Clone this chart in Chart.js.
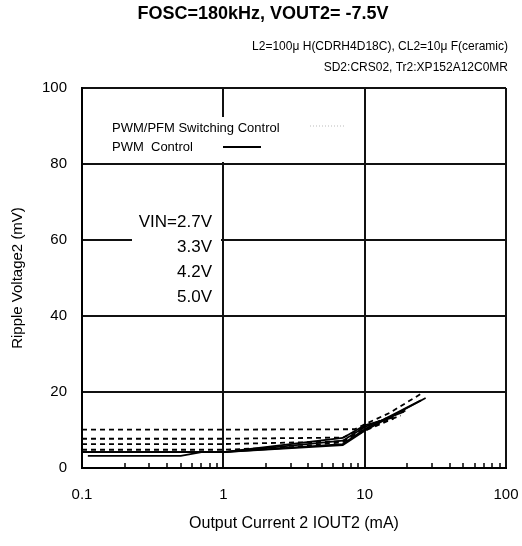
<!DOCTYPE html>
<html>
<head>
<meta charset="utf-8">
<script src="https://cdn.jsdelivr.net/npm/chart.js@4.4.1/dist/chart.umd.min.js"></script>
<style>
  html, body { margin: 0; padding: 0; background: #fff; }
  #wrap { width: 522px; height: 546px; }
</style>
</head>
<body>
<div id="wrap"><canvas id="rippleChart" width="522" height="546"></canvas></div>
<script>
// Ripple voltage vs output current, FOSC=180kHz, VOUT2=-7.5V
const xTicks = [0.1, 1, 10, 100];
const yTicks = [0, 20, 40, 60, 80, 100];
const vinLabels = ['VIN=2.7V', '3.3V', '4.2V', '5.0V'];

// PWM control (solid lines)
const pwmCurrent27 = [0.1, 1, 7, 10, 16];
const pwmRipple27  = [4.2, 4.2, 7.9, 11.2, 13.3];
const pwmCurrent33 = [0.1, 1, 7, 10, 19];
const pwmRipple33  = [4.2, 4.2, 7.2, 10.8, 14.8];
const pwmCurrent42 = [0.11, 0.5, 0.7, 1, 7, 10, 25];
const pwmRipple42  = [3.2, 3.2, 4.2, 4.2, 6.3, 10.2, 17.8];
const pwmCurrent50 = [0.1, 1, 7, 10, 27];
const pwmRipple50  = [4.2, 4.2, 6.0, 9.8, 18.4];

// PWM/PFM switching control (dashed lines)
const pfmCurrent27 = [0.1, 1, 8.5, 10, 15, 25];
const pfmRipple27  = [10.1, 10.1, 10.2, 11.5, 14.5, 19.5];
const pfmCurrent33 = [0.1, 1, 7, 10, 20];
const pfmRipple33  = [7.7, 7.7, 8.0, 10.8, 15.3];
const pfmCurrent42 = [0.1, 1, 7, 10, 18];
const pfmRipple42  = [6.3, 6.3, 7.0, 10.3, 13.8];
const pfmCurrent50 = [0.1, 1, 3, 7, 10, 16];
const pfmRipple50  = [4.8, 4.8, 5.5, 6.8, 9.8, 13.0];

const toPoints = (xs, ys) => xs.map((x, i) => ({ x: x, y: ys[i] }));
const isDecade = v => Math.abs(Math.log10(v) - Math.round(Math.log10(v))) < 1e-6;

function solid(label, xs, ys) {
    return { label: label, data: toPoints(xs, ys), borderColor: '#000', borderWidth: 1.8,
             pointRadius: 0, tension: 0, fill: false };
}
function dashed(label, xs, ys) {
    return { label: label, data: toPoints(xs, ys), borderColor: '#000', borderWidth: 1.8,
             borderDash: [5, 4], pointRadius: 0, tension: 0, fill: false };
}

// extra text and boxes drawn over the plot
const overlay = {
    id: 'overlay',
    afterDraw(chart) {
        const c = chart.ctx;
        const xs = chart.scales.x;
        const area = chart.chartArea;
        c.save();

        // minor ticks along the bottom axis
        c.strokeStyle = '#000';
        c.lineWidth = 1.5;
        [0.1, 1, 10].forEach(d => {
            for (let m = 2; m <= 9; m++) {
                const px = Math.round(xs.getPixelForValue(d * m));
                c.beginPath();
                c.moveTo(px, area.bottom);
                c.lineTo(px, area.bottom - 5);
                c.stroke();
            }
        });

        // titles
        c.fillStyle = '#000';
        c.textAlign = 'center';
        c.textBaseline = 'middle';
        c.font = 'bold 18px "Liberation Sans", Arial, sans-serif';
        c.fillText('FOSC=180kHz, VOUT2= -7.5V', 263, 14);
        c.textAlign = 'right';
        c.font = '12px "Liberation Sans", Arial, sans-serif';
        c.fillText('L2=100\u03bc H(CDRH4D18C), CL2=10\u03bc F(ceramic)', 508, 47);
        c.fillText('SD2:CRS02, Tr2:XP152A12C0MR', 508, 68);

        // legend box
        c.fillStyle = '#fff';
        c.fillRect(100, 117, 250, 45);
        c.fillStyle = '#000';
        c.textAlign = 'left';
        c.font = '13px "Liberation Sans", Arial, sans-serif';
        c.fillText('PWM/PFM Switching Control', 112, 128);
        c.fillText('PWM  Control', 112, 147);
        c.lineWidth = 1.8;
        c.beginPath();
        c.moveTo(223, 147);
        c.lineTo(261, 147);
        c.stroke();
        c.strokeStyle = '#bbb';
        c.lineWidth = 1;
        c.setLineDash([1, 2]);
        c.beginPath();
        c.moveTo(310, 126);
        c.lineTo(346, 126);
        c.stroke();
        c.setLineDash([]);

        // VIN labels box
        c.fillStyle = '#fff';
        c.fillRect(132, 207, 89, 100);
        c.fillStyle = '#000';
        c.textAlign = 'right';
        c.font = '17px "Liberation Sans", Arial, sans-serif';
        vinLabels.forEach((t, i) => c.fillText(t, 212, 222 + i * 25));
        c.restore();
    }
};

const ctx = document.getElementById('rippleChart').getContext('2d');
const rippleChart = new Chart(ctx, {
    type: 'line',
    data: {
        datasets: [
            dashed('PWM/PFM 2.7V', pfmCurrent27, pfmRipple27),
            dashed('PWM/PFM 3.3V', pfmCurrent33, pfmRipple33),
            dashed('PWM/PFM 4.2V', pfmCurrent42, pfmRipple42),
            dashed('PWM/PFM 5.0V', pfmCurrent50, pfmRipple50),
            solid('PWM 2.7V', pwmCurrent27, pwmRipple27),
            solid('PWM 3.3V', pwmCurrent33, pwmRipple33),
            solid('PWM 4.2V', pwmCurrent42, pwmRipple42),
            solid('PWM 5.0V', pwmCurrent50, pwmRipple50)
        ]
    },
    options: {
        responsive: false,
        animation: false,
        layout: { padding: { top: 88, right: 16, left: 0, bottom: 0 } },
        plugins: {
            legend: { display: false },
            tooltip: { enabled: false }
        },
        scales: {
            x: {
                type: 'logarithmic',
                min: xTicks[0],
                max: xTicks[xTicks.length - 1],
                afterFit: s => { s.height = 78; s.paddingLeft = 0; s.paddingRight = 0; },
                border: { color: '#000', width: 2 },
                grid: {
                    drawTicks: false,
                    lineWidth: 2,
                    color: c => (c.tick && isDecade(c.tick.value)) ? '#111' : 'rgba(0,0,0,0)'
                },
                ticks: {
                    autoSkip: false,
                    maxRotation: 0,
                    padding: 18,
                    color: '#000',
                    font: { family: '"Liberation Sans", Arial', size: 15 },
                    callback: v => xTicks.some(t => Math.abs(t - v) < 1e-9) ? String(v) : ''
                },
                title: {
                    display: true,
                    text: 'Output Current 2 IOUT2 (mA)',
                    color: '#000',
                    font: { family: '"Liberation Sans", Arial', size: 16 },
                    padding: { top: 0, bottom: 13 }
                }
            },
            y: {
                min: yTicks[0],
                max: yTicks[yTicks.length - 1],
                afterFit: s => { s.width = 82; },
                border: { color: '#000', width: 2 },
                grid: { drawTicks: false, lineWidth: 2, color: '#111' },
                ticks: {
                    stepSize: 20,
                    padding: 15,
                    color: '#000',
                    font: { family: '"Liberation Sans", Arial', size: 15 }
                },
                title: {
                    display: true,
                    text: 'Ripple Voltage2 (mV)',
                    color: '#000',
                    font: { family: '"Liberation Sans", Arial', size: 15 },
                    padding: { top: 9, bottom: 0 }
                }
            }
        }
    },
    plugins: [overlay]
});
</script>
</body>
</html>
